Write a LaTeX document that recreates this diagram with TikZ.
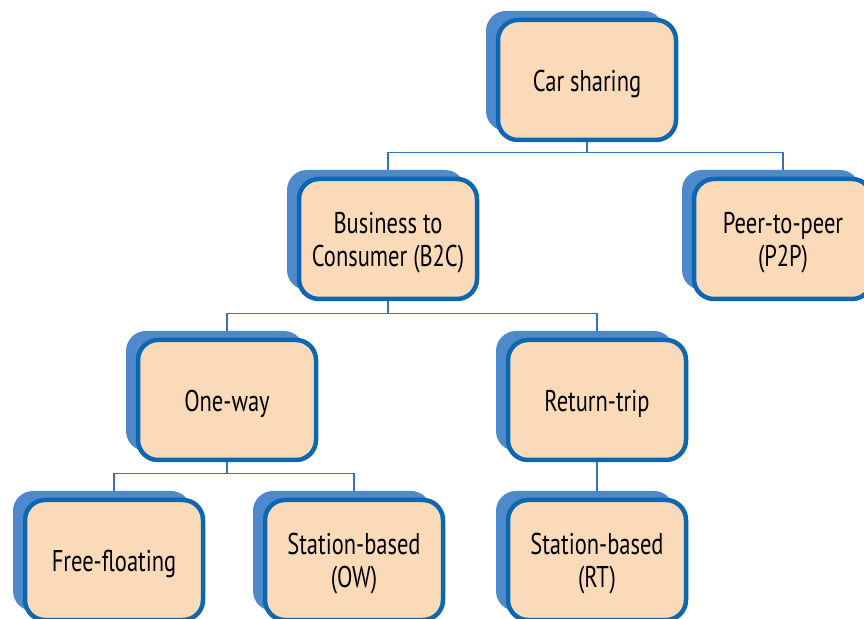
\documentclass[tikz,border=0pt]{standalone}
\usepackage{fontspec}
\setmainfont{PT Sans}[FakeStretch=0.75]
\usetikzlibrary{shadows,backgrounds}
\definecolor{boxfill}{HTML}{FBDAB9}
\definecolor{boxline}{HTML}{0B67B2}
\definecolor{shadowblue}{HTML}{4D89CB}
\definecolor{conn}{HTML}{3077B8}
\tikzset{
  box/.style={draw=boxline, line width=4.5pt, fill=boxfill, rounded corners=20pt,
    minimum width=178pt, minimum height=120pt,
    general shadow={fill=shadowblue, shadow xshift=-12pt, shadow yshift=9pt}},
  txt/.style={align=center, inner sep=0pt, font=\fontsize{30}{33}\selectfont},
  link/.style={draw=conn, line width=1.2pt}
}
\begin{document}
\begin{tikzpicture}[x=1pt,y=1pt]
\useasboundingbox (0,0) rectangle (864,618);
\node[box] (car) at (587,538) {};
\node[box] (b2c) at (388,379) {};
\node[box] (p2p) at (783,379) {};
\node[box] (ow) at (227,218) {};
\node[box] (rt) at (597,218) {};
\node[box] (ff) at (114,58) {};
\node[box] (sow) at (354,58) {};
\node[box] (srt) at (597,58) {};
\node[txt] (cart) at ([yshift=-4pt]car.center) {Car sharing};
\node[txt] (b2ct) at ([yshift=-4pt]b2c.center) {Business to\\Consumer (B2C)};
\node[txt] (p2pt) at ([yshift=-4pt]p2p.center) {Peer-to-peer\\(P2P)};
\node[txt] (owt) at ([yshift=-4pt]ow.center) {One-way};
\node[txt] (rtt) at ([yshift=-4pt]rt.center) {Return-trip};
\node[txt] (fft) at ([yshift=-4pt]ff.center) {Free-floating};
\node[txt] (sowt) at ([yshift=-4pt]sow.center) {Station-based\\(OW)};
\node[txt] (srtt) at ([yshift=-4pt]srt.center) {Station-based\\(RT)};
\begin{pgfonlayer}{background}
\draw[link] (car.south) -- ++(0,-10) coordinate (bus1);
\draw[link] (b2c.north) |- (bus1) -| (p2p.north);
\draw[link] (b2c.south) -- ++(0,-12) coordinate (bus2);
\draw[link] (ow.north) |- (bus2) -| (rt.north);
\draw[link] (ow.south) -- ++(0,-11) coordinate (bus3);
\draw[link] (ff.north) |- (bus3) -| (sow.north);
\draw[link] (rt.south) -- (srt.north);
\end{pgfonlayer}
\end{tikzpicture}
\end{document}
